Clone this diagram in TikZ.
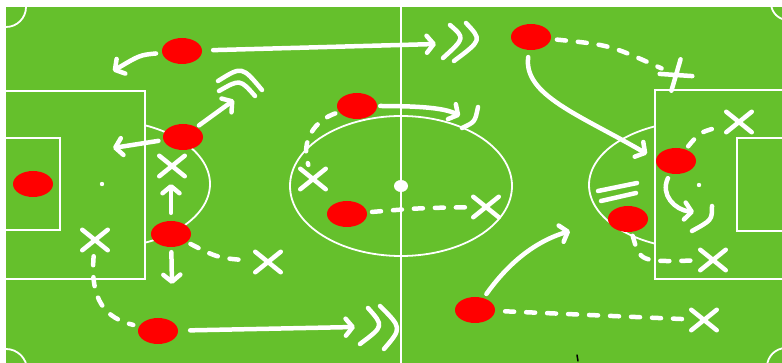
\documentclass[tikz,border=0pt]{standalone}
\usetikzlibrary{arrows.meta,shapes.geometric,shapes.misc}
\definecolor{pitch}{RGB}{101,192,44}
\definecolor{plred}{RGB}{255,0,0}
\tikzset{
 fieldline/.style={white,line width=1.8pt},
 chalk/.style={white,line width=4.5pt,line cap=round,line join=round},
 chalkarrow/.style={chalk,-{Straight Barb[length=7pt,width=17pt,round]}},
 chalkdash/.style={chalk,dash pattern=on 9pt off 12pt},
 player/.style={ellipse,fill=plred,minimum width=40pt,minimum height=26pt,inner sep=0pt},
 xmark/.style={cross out,draw=white,line width=4.5pt,line cap=round,minimum width=21pt,minimum height=16pt,inner sep=0pt},
}
\begin{document}
\begin{tikzpicture}[x=1pt,y=-1pt]
\useasboundingbox (0,0) rectangle (782,363);
\fill[white] (0,0) rectangle (782,363);
\fill[pitch] (6,7) rectangle (782,363);
% field markings
\draw[fieldline] (401,7) -- (401,363);
\draw[fieldline] (401,186) ellipse [x radius=111,y radius=70];
\fill[white] (401,186) ellipse [x radius=7,y radius=6];
\draw[fieldline] (6,91) -- (145,91) -- (145,279) -- (6,279);
\draw[fieldline] (6,138) -- (60,138) -- (60,230) -- (6,230);
\fill[white] (102,184) circle (2.2);
\begin{scope}
 \clip (145,0) rectangle (300,363);
 \draw[fieldline] (102,184) ellipse [x radius=108,y radius=64];
\end{scope}
\draw[fieldline] (782,90) -- (655,90) -- (655,279) -- (782,279);
\draw[fieldline] (782,138) -- (737,138) -- (737,231) -- (782,231);
\fill[white] (699,185) circle (2.2);
\begin{scope}
 \clip (500,0) rectangle (655,363);
 \draw[fieldline] (699,185) ellipse [x radius=110,y radius=64];
\end{scope}
\begin{scope}
 \clip (6,7) rectangle (782,363);
 \draw[fieldline] (6,7) circle (20);
 \draw[fieldline] (6,370) circle (21);
 \draw[fieldline] (788,3) circle (17);
 \draw[fieldline] (786,367) circle (19);
\end{scope}
\draw[black,line width=1.5pt,line cap=round] (577,355) -- (578,361);
% players
\node[player] (p1) at (182,51) {};
\node[player] (p2) at (183,137) {};
\node[player] (p3) at (33,184) {};
\node[player] (p4) at (171,234) {};
\node[player] (p5) at (158,331) {};
\node[player] (p6) at (357,106) {};
\node[player] (p7) at (347,214) {};
\node[player] (p8) at (531,37) {};
\node[player] (p9) at (676,161) {};
\node[player] (p10) at (628,219) {};
\node[player] (p11) at (475,310) {};
% crosses
\node[xmark] (xa) at (172,166) {};
\node[xmark] (xb) at (95,240) {};
\node[xmark] (xc) at (268,262) {};
\node[xmark] (xd) at (313,179) {};
\node[xmark] (xe) at (486,207) {};
\node[xmark,rotate=35] (xf) at (676,75) {};
\node[xmark] (xg) at (739,122) {};
\node[xmark] (xh) at (713,260) {};
\node[xmark] (xi) at (704,320) {};
% free ends
\coordinate (a1) at (113,71);
\coordinate (a2) at (436,44);
\coordinate (a3) at (113,148);
\coordinate (a4) at (234,100);
\coordinate (a5) at (171,184);
\coordinate (a6) at (172,284);
\coordinate (a7) at (355,327);
\coordinate (a8) at (460,116);
\coordinate (a9) at (647,154);
\coordinate (a10) at (694,212);
\coordinate (a11) at (570,231);
% player 1
\draw[chalkarrow,shorten <=6pt] (p1) .. controls (140,55) .. (a1);
\draw[chalkarrow,shorten <=11pt] (p1) -- (a2);
\draw[chalk] (450,25) .. controls (465,38) .. (443,58);
\draw[chalk] (466,23) .. controls (482,40) .. (454,61);
% player 2
\draw[chalkarrow,shorten <=5pt] (p2) -- (a3);
\draw[chalkarrow,shorten <=3pt] (p2) -- (a4);
\draw[chalk] (218,81) .. controls (242,66) .. (262,90);
\draw[chalk] (219,91) .. controls (240,79) .. (255,96);
% player 4
\draw[chalkarrow,shorten <=8pt] (p4) -- (a5);
\draw[chalkarrow,shorten <=5pt] (p4) -- (a6);
\draw[chalkdash,shorten <=4pt,shorten >=6pt] (p4) .. controls (218,258) .. (xc);
% player 5
\draw[chalkdash,shorten <=6pt,shorten >=6pt] (xb) .. controls (90,300) and (105,318) .. (p5);
\draw[chalkarrow,shorten <=12pt] (p5) -- (a7);
\draw[chalk] (368,308) .. controls (384,326) .. (360,344);
\draw[chalk] (380,306) .. controls (402,328) .. (384,349);
% player 6
\draw[chalkarrow,shorten <=3pt] (p6) .. controls (420,106) and (445,108) .. (a8);
\draw[chalk] (478,107) .. controls (475,122) .. (462,128);
\draw[chalkdash,shorten <=4pt,shorten >=4pt] (p6) .. controls (316,120) and (300,140) .. (xd);
% player 7
\draw[chalkdash,shorten <=5pt,shorten >=6pt] (p7) .. controls (420,208) .. (xe);
% player 8
\draw[chalkdash,shorten <=6pt,shorten >=4pt] (p8) .. controls (610,45) .. (xf);
\draw[chalkarrow,shorten <=7pt] (p8) .. controls (523,95) and (580,115) .. (a9);
% player 9
\draw[chalkdash,shorten <=4pt,shorten >=4pt] (p9) .. controls (700,132) .. (xg);
\draw[chalkarrow,shorten <=5pt] (p9) .. controls (660,195) and (675,210) .. (a10);
\draw[chalk] (712,206) .. controls (712,220) .. (692,231);
% player 10
\draw[chalk] (598,191) -- (637,183);
\draw[chalk] (601,201) -- (636,193);
\draw[chalkdash,shorten <=4pt,shorten >=5pt] (p10) .. controls (640,262) .. (xh);
% player 11
\draw[chalkarrow,shorten <=5pt] (p11) .. controls (512,258) and (540,240) .. (a11);
\draw[chalkdash,shorten <=10pt,shorten >=6pt] (p11) -- (xi);
\end{tikzpicture}
\end{document}
